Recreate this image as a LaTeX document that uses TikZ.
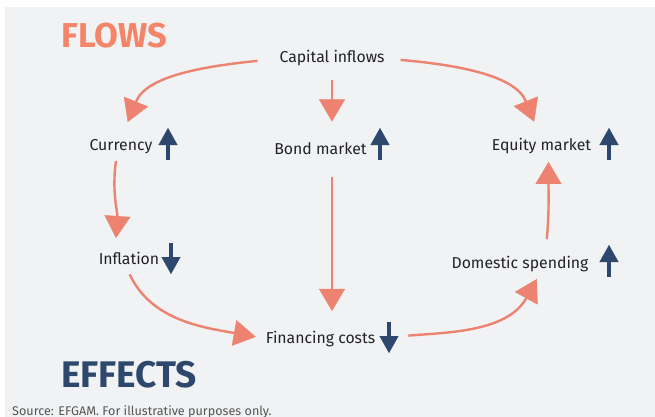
\documentclass[tikz,border=0pt]{standalone}
\usepackage{fontspec}
\setmainfont{Fira Sans}
\usetikzlibrary{arrows.meta}
\definecolor{efgamback}{RGB}{240,242,244}
\definecolor{efgamsalmon}{RGB}{245,133,105}
\definecolor{efgamarrow}{RGB}{236,130,111}
\definecolor{efgamnavy}{RGB}{45,72,108}
\definecolor{efgamtext}{RGB}{35,35,38}
\definecolor{efgamgrey}{RGB}{85,85,85}

\begin{document}
\begin{tikzpicture}[yscale=-1
,lbl/.style={inner sep=0pt,anchor=base,text=efgamtext,font=\fontsize{15.8}{18}\selectfont}
,heading/.style={inner sep=0pt,anchor=base west,font=\bfseries}
,flow/.style={draw=efgamarrow,line width=2.4pt,-{Triangle[length=22pt,width=26pt,fill=efgamarrow,line width=0.4pt]}}
,trend/.style={draw=efgamnavy,line width=3.4pt,-{Triangle[length=17pt,width=19pt,line width=0.1pt]}}
]
\useasboundingbox (0pt,0pt) rectangle (655pt,417pt);
\fill[efgamback] (5pt,7pt) rectangle (655pt,417pt);
\node[heading,text=efgamsalmon,font=\fontsize{34.5}{37}\selectfont\bfseries] (flows) at (61pt,48pt) {FLOWS};
\node[heading,text=efgamnavy,font=\fontsize{37}{40}\selectfont\bfseries] (effects) at (61pt,387pt) {EFFECTS};
\node[inner sep=0pt,anchor=base west,text=efgamgrey,font=\fontsize{12.6}{14}\selectfont\addfontfeature{Weight=Light}] (source) at (12pt,415.5pt) {Source: EFGAM. For illustrative purposes only.};
\node[lbl] (cap) at (332pt,63pt) {Capital inflows};
\node[lbl] (cur) at (121pt,150pt) {Currency};
\node[lbl] (bond) at (320.5pt,154.5pt) {Bond market};
\node[lbl] (eq) at (541.5pt,150pt) {Equity market};
\node[lbl] (infl) at (129pt,264pt) {Inflation};
\node[lbl] (dom) at (520pt,268pt) {Domestic spending};
\node[lbl] (fin) at (320.5pt,343pt) {Financing costs};
\draw[flow,shorten <=22pt,shorten >=18pt] (cap.west) to[out=174,in=-68] (cur.north);
\draw[flow,shorten <=13.5pt,shorten >=21pt] (cap.south) -- (cap.south |- bond.north);
\draw[flow,shorten <=16pt,shorten >=17pt] (cap.east) to[out=5,in=-112] ([xshift=-1pt]eq.north);
\draw[flow,shorten <=7.5pt,shorten >=13.5pt] ([xshift=-4pt]cur.south) to[out=98,in=-86] ([xshift=-14pt]infl.north);
\draw[flow,shorten <=22.5pt,shorten >=19.5pt] (cap.south |- bond.south) -- (cap.south |- fin.north);
\draw[flow,shorten <=11pt,shorten >=10pt] ([xshift=-4pt]infl.south) to[out=65,in=190] (fin.west);
\draw[flow,shorten <=33pt,shorten >=8.5pt] (fin.east) to[out=-5,in=119] ([xshift=21pt]dom.south);
\draw[flow,shorten <=16.4pt,shorten >=8.4pt] ([xshift=25pt]dom.north) to[out=-84,in=90] ([xshift=7pt]eq.south);
\draw[trend] (168pt,160pt) -- (168pt,128pt);
\draw[trend] (380pt,160pt) -- (380pt,128pt);
\draw[trend] (609pt,160pt) -- (609pt,128pt);
\draw[trend] (171pt,243pt) -- (171pt,274pt);
\draw[trend] (609pt,277pt) -- (609pt,245pt);
\draw[trend] (389pt,322pt) -- (389pt,353pt);
\end{tikzpicture}
\end{document}
